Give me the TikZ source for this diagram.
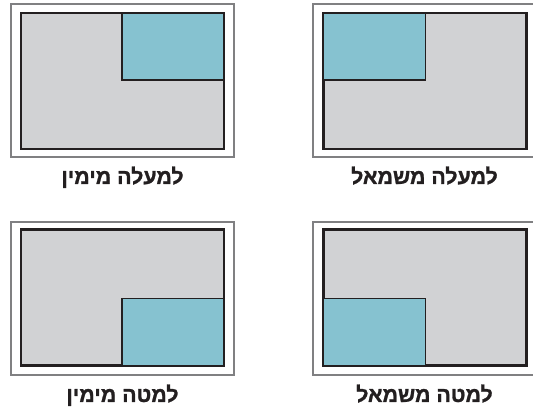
\documentclass[tikz,border=0pt]{standalone}
\usepackage{fontspec}
\usepackage{tikz}
\usetikzlibrary{positioning}
\TeXXeTstate=1
\newfontfamily\hebfont[Script=Hebrew, BoldFont={Liberation Sans Bold}, BoldFeatures={FakeBold=1.2}]{Liberation Sans}
\definecolor{framegray}{HTML}{808082}
\definecolor{screengray}{HTML}{D1D2D4}
\definecolor{screenline}{HTML}{231F20}
\definecolor{cornerblue}{HTML}{86C2D0}

\begin{document}
\begin{tikzpicture}[
    x=0.75pt, y=-0.75pt,
    frame/.style={rectangle, draw=framegray, line width=1.3pt, fill=white, inner sep=0pt, outer sep=0pt, minimum width=167.25pt, minimum height=114.75pt},
    screen/.style={rectangle, draw=screenline, line width=1.6pt, fill=screengray, inner sep=0pt, outer sep=0pt, minimum width=152.25pt, minimum height=102pt},
    corner/.style={rectangle, draw=screenline, line width=0.9pt, fill=cornerblue, inner sep=0pt, outer sep=0pt, minimum width=76.5pt, minimum height=50.25pt},
    caption/.style={inner sep=0pt, font=\hebfont\bfseries\fontsize{16}{18}\selectfont, text=screenline}
]
\useasboundingbox (0,0) rectangle (533,407);

% top left: corner at top right
\node[frame] (tlframe) at (122.5,80.5) {};
\node[screen] (tlscreen) at (122.5,81) {};
\node[corner, anchor=north east] (tlcorner) at (tlscreen.north east) {};
\node[caption, below=7pt of tlframe] (tllabel) {\beginR למעלה מימין\endR};

% top right: corner at top left
\node[frame] (trframe) at (424.5,80.5) {};
\node[screen] (trscreen) at (425,81) {};
\node[corner, anchor=north west] (trcorner) at (trscreen.north west) {};
\node[caption, below=7pt of trframe] (trlabel) {\beginR למעלה משמאל\endR};

% bottom left: corner at bottom right
\node[frame] (blframe) at (122.5,298.5) {};
\node[screen] (blscreen) at (122.5,297.5) {};
\node[corner, anchor=south east] (blcorner) at (blscreen.south east) {};
\node[caption, below=7pt of blframe] (bllabel) {\beginR למטה מימין\endR};

% bottom right: corner at bottom left
\node[frame] (brframe) at (424.5,298.5) {};
\node[screen] (brscreen) at (425,297.5) {};
\node[corner, anchor=south west] (brcorner) at (brscreen.south west) {};
\node[caption, below=7pt of brframe] (brlabel) {\beginR למטה משמאל\endR};
\end{tikzpicture}
\end{document}
